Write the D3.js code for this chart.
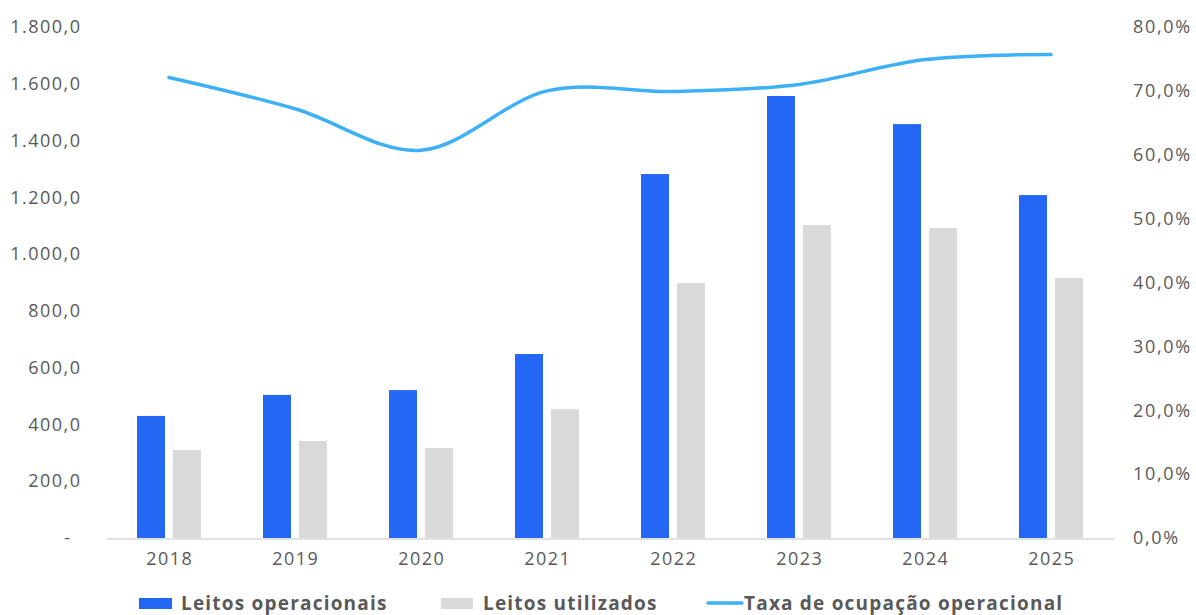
<!DOCTYPE html>
<html>
<head>
<meta charset="utf-8">
<script src="https://cdn.jsdelivr.net/npm/d3@7"></script>
<style>
  html, body { margin: 0; padding: 0; background: #ffffff; }
  svg { display: block; }
  text { font-family: "Open Sans", "DejaVu Sans", sans-serif; fill: #595959; }
</style>
</head>
<body>
<svg id="chart" width="1196" height="615"></svg>
<script>
// Hospital beds per year and operational occupancy rate
const years = ["2018", "2019", "2020", "2021", "2022", "2023", "2024", "2025"];
const leitosOperacionais = [430, 504, 521, 648, 1282, 1557, 1458, 1208];
const leitosUtilizados = [310, 342, 317, 454, 898, 1102, 1092, 916];
const taxaOcupacao = [72.1, 67.2, 60.7, 70.0, 69.9, 71.0, 74.9, 75.7];
const leftTicks = [0, 200, 400, 600, 800, 1000, 1200, 1400, 1600, 1800];
const rightTicks = [0, 10, 20, 30, 40, 50, 60, 70, 80];
const seriesNames = ["Leitos operacionais", "Leitos utilizados", "Taxa de ocupação operacional"];

const colors = { op: "#2567F5", ut: "#D9D9D9", line: "#3DB0F7", axis: "#D9D9D9" };

const svg = d3.select("#chart");
const plot = { left: 106, right: 1114, top: 27, bottom: 538 };

const br = d3.formatLocale({ decimal: ",", thousands: ".", grouping: [3], currency: ["R$", ""] });
const fmtLeft = v => v === 0 ? "-" : br.format(",.1f")(v);
const fmtRight = v => br.format(".1f")(v) + "%";

const x0 = d3.scaleBand().domain(years).range([plot.left, plot.right]).paddingInner(0).paddingOuter(0);
const x1 = d3.scaleBand().domain(["op", "ut"])
  .range([x0.bandwidth() / 2 - 32, x0.bandwidth() / 2 + 32])
  .paddingInner(8 / 36).paddingOuter(0);
const yL = d3.scaleLinear().domain([0, 1800]).range([plot.bottom, plot.top]);
const yR = d3.scaleLinear().domain([0, 80]).range([plot.bottom, plot.top]);

// Left axis labels
const leftAxis = svg.append("g").attr("transform", `translate(81.5,0)`)
  .call(d3.axisLeft(yL).tickValues(leftTicks).tickFormat(fmtLeft).tickSize(0).tickPadding(0));
leftAxis.select(".domain").remove();
leftAxis.selectAll("text").style("font-size", "18px").style("letter-spacing", "1.5px")
  .attr("fill", "#595959")
  .attr("dx", d => d === 0 ? "-10" : "0");

// Right axis labels
const rightAxis = svg.append("g").attr("transform", `translate(1133,0)`)
  .call(d3.axisRight(yR).tickValues(rightTicks).tickFormat(fmtRight).tickSize(0).tickPadding(0));
rightAxis.select(".domain").remove();
rightAxis.selectAll("text").style("font-size", "18px").style("letter-spacing", "1.7px")
  .attr("fill", "#595959");

// Bars
const groups = svg.append("g").selectAll("g").data(years).join("g")
  .attr("transform", d => `translate(${x0(d)},0)`);
groups.append("rect")
  .attr("x", x1("op")).attr("width", x1.bandwidth())
  .attr("y", (d, i) => yL(leitosOperacionais[i]))
  .attr("height", (d, i) => yL(0) - yL(leitosOperacionais[i]))
  .attr("fill", colors.op);
groups.append("rect")
  .attr("x", x1("ut")).attr("width", x1.bandwidth())
  .attr("y", (d, i) => yL(leitosUtilizados[i]))
  .attr("height", (d, i) => yL(0) - yL(leitosUtilizados[i]))
  .attr("fill", colors.ut);

// Category axis
const xAxis = svg.append("g").attr("transform", `translate(0,${plot.bottom + 0.5})`)
  .call(d3.axisBottom(x0).tickSize(0).tickPadding(14));
xAxis.select(".domain").attr("stroke", colors.axis).attr("stroke-width", 1.5);
xAxis.selectAll("text").style("font-size", "18px").style("letter-spacing", "1.5px")
  .attr("dx", "0.75").attr("fill", "#595959");

// Occupancy rate line
const line = d3.line()
  .x((d, i) => x0(years[i]) + x0.bandwidth() / 2)
  .y(d => yR(d))
  .curve(d3.curveCatmullRom.alpha(0));
svg.append("path").datum(taxaOcupacao)
  .attr("d", line)
  .attr("fill", "none")
  .attr("stroke", colors.line)
  .attr("stroke-width", 3.5)
  .attr("stroke-linecap", "round");

// Legend
const legend = svg.append("g").attr("class", "legend");
const ly = 604;
const legendText = (x, label) => legend.append("text").attr("x", x).attr("y", ly + 6).text(label)
  .style("font-size", "19px").style("font-weight", "700").style("letter-spacing", "1.2px");
legend.append("rect").attr("x", 139).attr("y", ly - 6).attr("width", 33).attr("height", 11).attr("fill", colors.op);
legendText(181, seriesNames[0]);
legend.append("rect").attr("x", 441).attr("y", ly - 6).attr("width", 32).attr("height", 11).attr("fill", colors.ut);
legendText(483, seriesNames[1]);
legend.append("line").attr("x1", 708).attr("x2", 742).attr("y1", ly - 1).attr("y2", ly - 1)
  .attr("stroke", colors.line).attr("stroke-width", 3.5).attr("stroke-linecap", "round");
legendText(744, seriesNames[2]);
</script>
</body>
</html>
